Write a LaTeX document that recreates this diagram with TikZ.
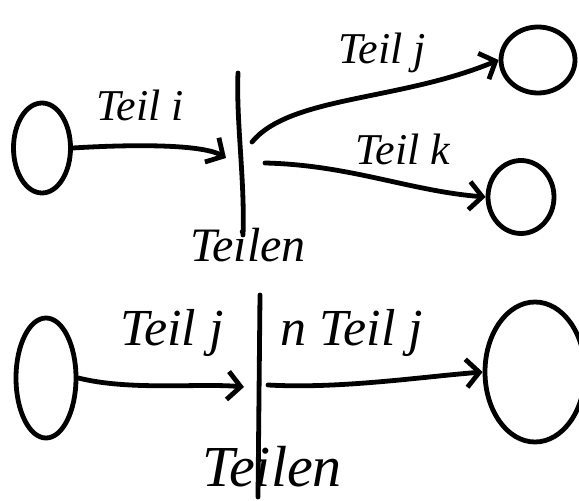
\documentclass[tikz,border=0pt]{standalone}
\usepackage{fontspec}
\setmainfont{Liberation Serif}
\usetikzlibrary{arrows.meta,shapes.geometric}
\tikzset{
  ink/.style={line width=4.8pt, line cap=round, line join=round, black},
  blob/.style={ellipse, draw, ink, inner sep=0pt},
  flow/.style={ink, -{Straight Barb[length=13pt,width=28pt,line width=4.8pt]}},
  lbl/.style={font=\fontsize{#1}{#1}\selectfont\itshape, inner sep=0pt},
  lbl/.default=44,
}
\begin{document}
\begin{tikzpicture}[x=1pt,y=1pt]
\useasboundingbox (0,0) rectangle (579,501);

% upper split
\node[blob, minimum width=57pt, minimum height=90pt] (a) at (42,353) {};
\node[blob, minimum width=74pt, minimum height=66pt] (b) at (538,441) {};
\node[blob, minimum width=66pt, minimum height=73pt] (c) at (521,304) {};
\coordinate (bartop) at (238,428);
\coordinate (barbot) at (243,266);
\draw[ink] (bartop) .. controls (236,380) and (245,320) .. (barbot);
\coordinate (ain) at (226,343);
\coordinate (bout) at (252,359);
\coordinate (cout) at (265,338);
\draw[flow] (a.east) .. controls (120,356) and (200,358) .. (ain);
\draw[flow] (bout) .. controls (290,405) and (400,400) .. (b.west);
\draw[flow] (cout) .. controls (350,336) and (410,310) .. (c.west);
\node[lbl=44] (li) at (140,396) {Teil i};
\node[lbl=44] (lj) at (382,448) {Teil j};
\node[lbl=44] (lk) at (403,352) {Teil k};
\node[lbl=48] (lt) at (248,256) {Teilen};

% lower split
\node[blob, minimum width=60pt, minimum height=120pt] (d) at (46,123) {};
\node[blob, minimum width=100pt, minimum height=140pt] (e) at (535,129) {};
\coordinate (bar2top) at (260,206);
\coordinate (bar2bot) at (258,4);
\draw[ink] (bar2top) -- (bar2bot);
\coordinate (din) at (244,114);
\coordinate (eout) at (268,116);
\draw[flow] (d.east) .. controls (130,110) and (200,118) .. (din);
\draw[flow] (eout) .. controls (340,112) and (420,124) .. (e.west);
\node[lbl=52] (lj2) at (172,168) {Teil j};
\node[lbl=52] (ln) at (352,168) {n Teil j};
\node[lbl=58] (lt2) at (272,34) {Teilen};
\end{tikzpicture}
\end{document}
